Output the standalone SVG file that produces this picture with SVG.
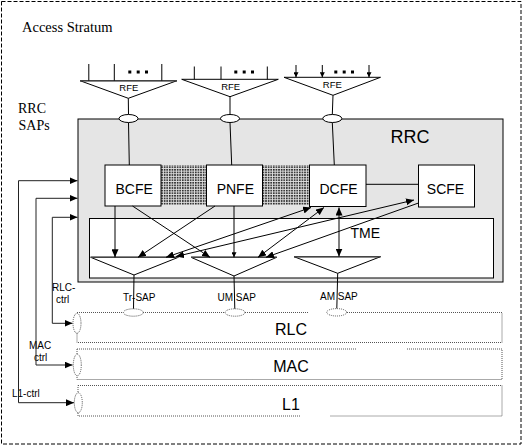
<svg xmlns="http://www.w3.org/2000/svg" width="523" height="446" viewBox="0 0 523 446">
<style>
.serif{font-family:"Liberation Serif","Times New Roman",serif;fill:#000}
.sans{font-family:"Liberation Sans",Arial,sans-serif;fill:#000}
.box{fill:#fff;stroke:#000;stroke-width:1}
.ln{stroke:#000;stroke-width:1;fill:none}
.tri{fill:none;stroke:#000;stroke-width:1}
.topedge{stroke:#444;stroke-width:1.6}
.dot{fill:none;stroke:#555;stroke-width:1;stroke-dasharray:1 1}
.dote{fill:#fff;stroke:#555;stroke-width:1;stroke-dasharray:1 1}
.ctl{stroke:#222;stroke-width:1;fill:none}
</style>
<defs>
<marker id="ah" markerUnits="userSpaceOnUse" markerWidth="9" markerHeight="7" refX="8" refY="3.5" orient="auto-start-reverse" viewBox="0 0 9 7">
<path d="M0,0 L8,3.5 L0,7 z" fill="#000"/>
</marker>
<marker id="ahs" markerUnits="userSpaceOnUse" markerWidth="6" markerHeight="5" refX="5" refY="2.5" orient="auto-start-reverse" viewBox="0 0 6 5">
<path d="M0,0 L5,2.5 L0,5 z" fill="#000"/>
</marker>
<pattern id="dots" width="2.6" height="2.6" patternUnits="userSpaceOnUse">
<rect width="2.6" height="2.6" fill="#e0e0e0"/>
<rect width="1.6" height="1.6" fill="#222"/>
</pattern>
</defs>

<g id="access-stratum">
<rect x="1.5" y="1.5" width="519.5" height="442.5" fill="none" stroke="#000" stroke-width="1" stroke-dasharray="4 2"/>
<text class="serif" x="22" y="31.5" font-size="14.5">Access Stratum</text>
</g>

<g id="rrc-saps-label">
<text class="serif" x="18" y="113" font-size="14">RRC</text>
<text class="serif" x="18.5" y="129.5" font-size="14">SAPs</text>
</g>

<g id="rrc">
<rect x="78" y="119" width="425" height="163" fill="#e5e5e5" stroke="#000" stroke-width="1"/>
<text class="sans" x="390.5" y="143" font-size="18">RRC</text>
</g>

<g id="rfe1">
<polygon class="tri" points="80,80.7 177,80.7 128.3,98.3"/>
<line class="topedge" x1="80" y1="80.7" x2="177" y2="80.7"/>
<line class="ln" x1="88.8" y1="64" x2="88.8" y2="80.7"/>
<line class="ln" x1="114.3" y1="64" x2="114.3" y2="80.7"/>
<line class="ln" x1="161.8" y1="64" x2="161.8" y2="80.7"/>
<rect x="128.3" y="70.5" width="3" height="3" fill="#000"/>
<rect x="136.7" y="70.5" width="3" height="3" fill="#000"/>
<rect x="145" y="70.5" width="3" height="3" fill="#000"/>
<text class="sans" x="128.8" y="91.3" font-size="9.5" text-anchor="middle">RFE</text>
</g>

<g id="rfe2">
<polygon class="tri" points="181.7,79.3 278.3,79.3 230,96.7"/>
<line class="ln" x1="194.3" y1="66.5" x2="194.3" y2="79.3"/>
<line class="ln" x1="221" y1="66.5" x2="221" y2="79.3"/>
<line class="ln" x1="267.3" y1="66.5" x2="267.3" y2="79.3"/>
<rect x="234.3" y="70.5" width="3" height="3" fill="#000"/>
<rect x="242.7" y="70.5" width="3" height="3" fill="#000"/>
<rect x="251" y="70.5" width="3" height="3" fill="#000"/>
<text class="sans" x="230.7" y="90.3" font-size="9.5" text-anchor="middle">RFE</text>
</g>

<g id="rfe3">
<polygon class="tri" points="284,77.3 380.5,77.3 333,95.3"/>
<line class="ln" x1="296" y1="65" x2="296" y2="77.3" marker-end="url(#ahs)"/>
<line class="ln" x1="322.3" y1="65" x2="322.3" y2="77.3" marker-end="url(#ahs)"/>
<line class="ln" x1="369" y1="65" x2="369" y2="77.3" marker-end="url(#ahs)"/>
<rect x="334.3" y="70.5" width="3" height="3" fill="#000"/>
<rect x="342.7" y="70.5" width="3" height="3" fill="#000"/>
<rect x="351" y="70.5" width="3" height="3" fill="#000"/>
<text class="sans" x="332.3" y="88" font-size="9.5" text-anchor="middle">RFE</text>
</g>

<g id="shading">
<rect x="161" y="165" width="45.5" height="40" fill="url(#dots)"/>
<rect x="262.5" y="165" width="47" height="40" fill="url(#dots)"/>
</g>

<g id="bcfe">
<rect class="box" x="105" y="165" width="56" height="41"/>
<text class="sans" x="134.2" y="194" font-size="14" text-anchor="middle">BCFE</text>
</g>
<g id="pnfe">
<rect class="box" x="206.5" y="165" width="56" height="41"/>
<text class="sans" x="235.3" y="194" font-size="14" text-anchor="middle">PNFE</text>
</g>
<g id="dcfe">
<rect class="box" x="309.5" y="165" width="56.5" height="41.5"/>
<text class="sans" x="338.5" y="194" font-size="14" text-anchor="middle">DCFE</text>
</g>
<g id="scfe">
<rect class="box" x="418.5" y="165" width="56" height="42"/>
<text class="sans" x="445.5" y="194" font-size="14" text-anchor="middle">SCFE</text>
</g>

<g id="tme">
<rect class="box" x="89.5" y="218.5" width="404" height="59.5"/>
<text class="sans" x="350.5" y="237.5" font-size="14">TME</text>
</g>

<g id="tr-sap">
<polygon class="tri" points="90.7,257.3 178.3,257.3 134,275"/>
<line class="topedge" x1="90.7" y1="257.3" x2="178.3" y2="257.3"/>
<text class="sans" x="123" y="300.5" font-size="10">Tr-SAP</text>
</g>
<g id="um-sap">
<polygon class="tri" points="191,257.3 276.7,257.3 234,276"/>
<line class="topedge" x1="191" y1="257.3" x2="276.7" y2="257.3"/>
<text class="sans" x="217.5" y="300.5" font-size="10">UM SAP</text>
</g>
<g id="am-sap">
<polygon class="tri" points="294,256.7 380.5,256.7 337.7,273.3"/>
<line class="topedge" x1="294" y1="256.7" x2="380.5" y2="256.7"/>
<text class="sans" x="320" y="300.3" font-size="10">AM SAP</text>
</g>

<g id="rlc">
<path class="dot" d="M77,312.5 H308 M347,312.5 H502 V342.5 H77 V312.5"/>
<text class="sans" x="291" y="335" font-size="16" text-anchor="middle">RLC</text>
</g>
<g id="mac">
<path class="dot" d="M77,349 H356 M407,349 H502 V379.5 H77 V349"/>
<text class="sans" x="291" y="372.3" font-size="16" text-anchor="middle">MAC</text>
</g>
<g id="l1">
<path class="dot" d="M78,385.5 H502 V416 H330 M300,416 H78 V385.5"/>
<text class="sans" x="291" y="410" font-size="16" text-anchor="middle">L1</text>
</g>

<g id="ctrl-labels">
<text class="sans" x="52" y="290.5" font-size="10">RLC-</text>
<text class="sans" x="56" y="303" font-size="10">ctrl</text>
<text class="sans" x="29" y="349" font-size="10">MAC</text>
<text class="sans" x="34" y="361" font-size="10">ctrl</text>
<text class="sans" x="12" y="397" font-size="10">L1-ctrl</text>
</g>

<g id="connectors">
<line class="ln" x1="128.3" y1="98.3" x2="128.5" y2="114.5"/>
<line class="ln" x1="128.5" y1="122.5" x2="129.3" y2="165"/>
<line class="ln" x1="230" y1="96.7" x2="230" y2="114.5"/>
<line class="ln" x1="230" y1="122.5" x2="231.7" y2="165"/>
<line class="ln" x1="333" y1="95.3" x2="332.3" y2="114.5"/>
<line class="ln" x1="332.3" y1="122.5" x2="334.3" y2="165"/>
<line class="ln" x1="366" y1="184.3" x2="418.5" y2="184.3" stroke="#444"/>
<line class="ln" x1="115" y1="206" x2="115" y2="257.3" marker-end="url(#ah)"/>
<line class="ln" x1="132.5" y1="206" x2="210" y2="257.3" marker-end="url(#ah)"/>
<line class="ln" x1="215" y1="206" x2="138" y2="257.3" marker-end="url(#ah)"/>
<line class="ln" x1="234" y1="206" x2="234" y2="257.3" marker-end="url(#ahs)"/>
<line class="ln" x1="166" y1="257.3" x2="311" y2="207.5" marker-start="url(#ah)" marker-end="url(#ah)"/>
<line class="ln" x1="176" y1="256.5" x2="414" y2="200" marker-start="url(#ah)" marker-end="url(#ah)"/>
<line class="ln" x1="258" y1="257.3" x2="324" y2="207.5" marker-start="url(#ah)" marker-end="url(#ah)"/>
<line class="ln" x1="418.5" y1="203" x2="266" y2="257.3" marker-end="url(#ah)"/>
<line class="ln" x1="339" y1="207.5" x2="339" y2="256.5" marker-start="url(#ah)" marker-end="url(#ah)"/>
<line class="ln" x1="134" y1="275" x2="133.5" y2="309"/>
<line class="ln" x1="234" y1="276" x2="234.8" y2="309"/>
<line class="ln" x1="337.7" y1="273.3" x2="336.8" y2="308.8"/>
<path class="ctl" d="M77.5,180.7 H18.5 V402.7 H74" marker-start="url(#ah)" marker-end="url(#ah)"/>
<path class="ctl" d="M77.5,198.3 H36 V365 H72.5" marker-start="url(#ah)" marker-end="url(#ah)"/>
<path class="ctl" d="M77.5,217.3 H52.3 V323.3 H72.5" marker-start="url(#ah)" marker-end="url(#ah)"/>
</g>

<g id="rrc-saps">
<ellipse cx="128.5" cy="118.5" rx="9.5" ry="4" fill="#fff" stroke="#000" stroke-width="1"/>
<ellipse cx="230" cy="118.5" rx="9.5" ry="4" fill="#fff" stroke="#000" stroke-width="1"/>
<ellipse cx="332.3" cy="118.5" rx="9.5" ry="4" fill="#fff" stroke="#000" stroke-width="1"/>
</g>

<g id="layer-saps">
<ellipse class="dote" cx="133.3" cy="312.5" rx="10" ry="3.7"/>
<ellipse class="dote" cx="235" cy="312.5" rx="10" ry="3.7"/>
<ellipse class="dote" cx="336.7" cy="312.3" rx="10" ry="3.7"/>
<ellipse class="dote" cx="77" cy="323.3" rx="4" ry="10"/>
<ellipse class="dote" cx="77.3" cy="365" rx="4" ry="10.8"/>
<ellipse class="dote" cx="78.3" cy="402.7" rx="4" ry="10"/>
</g>
</svg>
